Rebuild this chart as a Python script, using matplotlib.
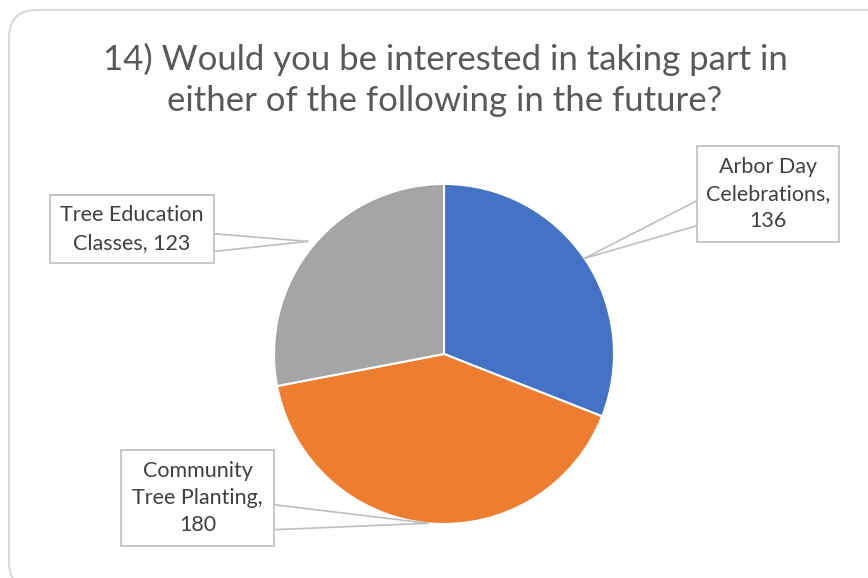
import matplotlib
matplotlib.use("Agg")
import matplotlib.pyplot as plt
import numpy as np
from matplotlib.patches import FancyBboxPatch, Rectangle
from matplotlib.transforms import IdentityTransform

plt.rcParams['font.family'] = ['Lato', 'DejaVu Sans']

title = "14) Would you be interested in taking part in\neither of the following in the future?"
labels = ["Arbor Day\nCelebrations,\n136", "Community\nTree Planting,\n180", "Tree Education\nClasses, 123"]
values = [136, 180, 123]
colors = ["#4472C4", "#ED7D31", "#A5A5A5"]

W, H = 868, 578
CX, CY, R = 444, 354, 170   # pie centre / radius in pixels (y from top)

# label boxes: left, top, right, bottom in pixels (y from top), anchor radius
boxes = [(697, 146, 839, 242, 1.0),
         (121, 450, 274, 546, 1.0),
         (50, 195, 214, 263, 1.04)]


def d(px, py):
    return (px - CX) / R, (CY - py) / R


fig = plt.figure(figsize=(W / 100, H / 100), dpi=100)
fig.patch.set_facecolor("white")

border = FancyBboxPatch((9, -12), W + 20, H - 10 + 12,
                        boxstyle="round,pad=0,rounding_size=28",
                        transform=IdentityTransform(), facecolor="none",
                        edgecolor="#D9D9D9", lw=1.5, zorder=-1)
fig.patches.append(border)

fig.text(445 / W, 1 - 80 / H, title, ha="center", va="center", fontsize=25,
         color="#595959", linespacing=1.33)

ax = fig.add_axes([(CX - R) / W, (H - CY - R) / H, 2 * R / W, 2 * R / H])
wedges, _ = ax.pie(values, colors=colors, startangle=90, counterclock=False,
                   wedgeprops=dict(edgecolor="white", linewidth=1.5))
ax.set_xlim(-1, 1)
ax.set_ylim(-1, 1)
ax.set_aspect("equal")
ax.axis("off")

for w, lab, (l, t, r, b, ar) in zip(wedges, labels, boxes):
    mid = np.deg2rad((w.theta1 + w.theta2) / 2)
    ax_, ay_ = ar * np.cos(mid), ar * np.sin(mid)
    x0, y0 = d(l, t)
    x1, y1 = d(r, b)
    ax.add_patch(Rectangle((x0, y1), x1 - x0, y0 - y1, facecolor="white",
                           edgecolor="#BFBFBF", lw=1.2, clip_on=False, zorder=5))
    # leader wedge attaches to the box side facing the pie
    hgt = y0 - y1
    ex = x1 if ax_ > x1 else x0
    for f in (0.57, 0.83):
        ax.plot([ex, ax_], [y0 - f * hgt, ay_], color="#BFBFBF", lw=1.2,
                clip_on=False, zorder=4)
    ax.text((x0 + x1) / 2, (y0 + y1) / 2, lab, ha="center", va="center",
            fontsize=15.5, color="#404040", linespacing=1.45, zorder=6)

fig.savefig("out.png", dpi=100)
